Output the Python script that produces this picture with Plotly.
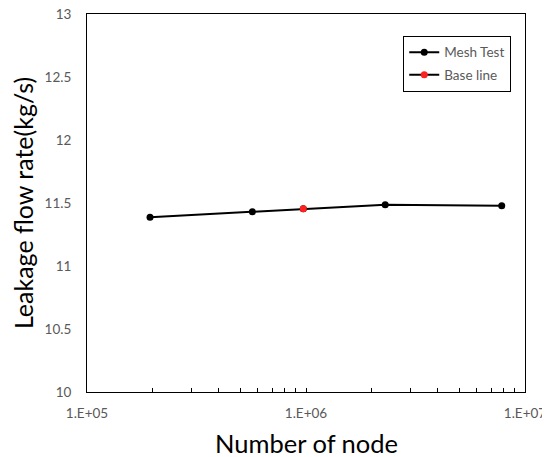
import plotly.graph_objects as go

nodes = [1.94e5, 5.69e5, 9.72e5, 2.30e6, 7.83e6]
flow = [11.387, 11.430, 11.455, 11.487, 11.479]
base_node = [9.72e5]
base_flow = [11.455]
x_tickvals = [1e5, 1e6, 1e7]
x_ticktext = ["1.E+05", "1.E+06", "1.E+07"]
y_tickvals = [10, 10.5, 11, 11.5, 12, 12.5, 13]
y_ticktext = ["10", "10.5", "11", "11.5", "12", "12.5", "13"]
minor_vals = [k * 10**e for e in (5, 6) for k in range(2, 10)] + [1e6]

FONT = "Lato, Open Sans, sans-serif"

fig = go.Figure()
fig.add_trace(go.Scatter(
    x=nodes, y=flow, mode="lines+markers", name="Mesh Test",
    legendgroup="a",
    line=dict(color="black", width=2),
    marker=dict(color="black", size=7),
))
fig.add_trace(go.Scatter(
    x=base_node, y=base_flow, mode="lines+markers", name="Base line",
    legendgroup="b",
    line=dict(color="black", width=2),
    marker=dict(color="#ff2020", size=7),
))

fig.update_layout(
    width=542, height=449,
    margin=dict(l=79, r=25, t=6, b=65, autoexpand=False),
    paper_bgcolor="white", plot_bgcolor="white",
    font=dict(family=FONT, color="#595959", size=13.5),
    showlegend=True,
    legend=dict(
        x=0.722, y=0.942, xanchor="left", yanchor="top",
        bordercolor="black", borderwidth=1, bgcolor="white",
        font=dict(family=FONT, size=13.5, color="#595959"),
        itemwidth=30, tracegroupgap=2,
    ),
    xaxis=dict(
        type="log", range=[5, 7], automargin=False,
        tickmode="array", tickvals=x_tickvals, ticktext=x_ticktext,
        ticks="", showgrid=False, zeroline=False,
        showline=True, linecolor="black", linewidth=1, mirror=True,
        ticklabelstandoff=9, ticklabeloverflow="allow",
        minor=dict(tickmode="array", tickvals=minor_vals, ticks="inside",
                   ticklen=4, tickcolor="black", tickwidth=1, showgrid=False),
    ),
    yaxis=dict(
        range=[10, 13], automargin=False,
        tickmode="array", tickvals=y_tickvals, ticktext=y_ticktext,
        ticks="", showgrid=False, zeroline=False,
        showline=True, linecolor="black", linewidth=1, mirror=True,
        ticklabelstandoff=12, ticklabeloverflow="allow",
    ),
    annotations=[
        dict(text="Leakage flow rate(kg/s)", xref="paper", yref="paper",
             x=-0.146, y=0.5, xanchor="center", yanchor="middle",
             textangle=-90, showarrow=False,
             font=dict(family=FONT, size=25, color="black")),
        dict(text="Number of node", xref="paper", yref="paper",
             x=0.5, y=-0.135, xanchor="center", yanchor="middle",
             showarrow=False,
             font=dict(family=FONT, size=25.5, color="black")),
    ],
)

fig.write_html("out.html")
